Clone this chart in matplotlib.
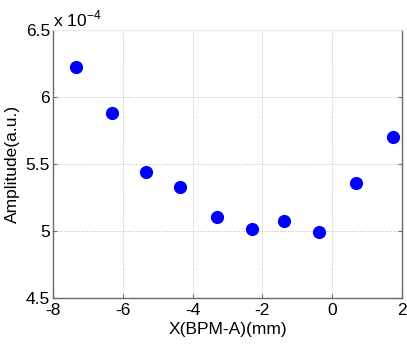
import numpy as np
import matplotlib
matplotlib.use('Agg')
import matplotlib.pyplot as plt
from matplotlib.ticker import FuncFormatter

# data
x_mm = [-7.34, -6.30, -5.34, -4.36, -3.30, -2.31, -1.38, -0.38, 0.69, 1.75]
amp = [6.22e-4, 5.88e-4, 5.435e-4, 5.325e-4, 5.10e-4, 5.01e-4, 5.07e-4, 4.99e-4, 5.36e-4, 5.70e-4]
xticks = [-8, -6, -4, -2, 0, 2]
yticks = [4.5e-4, 5e-4, 5.5e-4, 6e-4, 6.5e-4]

plt.rcParams['font.family'] = ['Liberation Sans', 'DejaVu Sans']
plt.rcParams['axes.unicode_minus'] = False

f = plt.figure(figsize=(4.07, 3.47), dpi=100)
ax = f.add_axes([0.130, 0.142, 0.858, 0.772])

ax.plot(x_mm, amp, 'o', color='#0000ff', markersize=9.5, markeredgewidth=0)

ax.set_xlim(-8, 2)
ax.set_ylim(4.5e-4, 6.5e-4)
ax.set_xticks(xticks)
ax.set_yticks(yticks)
ax.yaxis.set_major_formatter(FuncFormatter(lambda v, p: '%g' % round(v / 1e-4, 3)))
ax.grid(True, linestyle=':', color='#bdbdbd', linewidth=0.7)

for s in ['left', 'bottom', 'right']:
  ax.spines[s].set_color('#6a6a6a')
  ax.spines[s].set_linewidth(1.0)
ax.spines['top'].set_color('#e8e8e8')

ax.tick_params(direction='in', length=3, color='#6a6a6a', labelsize=12.5,
               right=True, top=False)
ax.tick_params(axis='x', pad=4)
ax.tick_params(axis='y', pad=2)

ax.set_xlabel('X(BPM-A)(mm)', fontsize=12.5, labelpad=3)
ax.set_ylabel('Amplitude(a.u.)', fontsize=12.5, labelpad=4)
ax.text(0.0, 1.0, r'x 10$^{\mathregular{-4}}$', transform=ax.transAxes,
        fontsize=12.5, ha='left', va='bottom')

plt.savefig('out.png', dpi=100)
